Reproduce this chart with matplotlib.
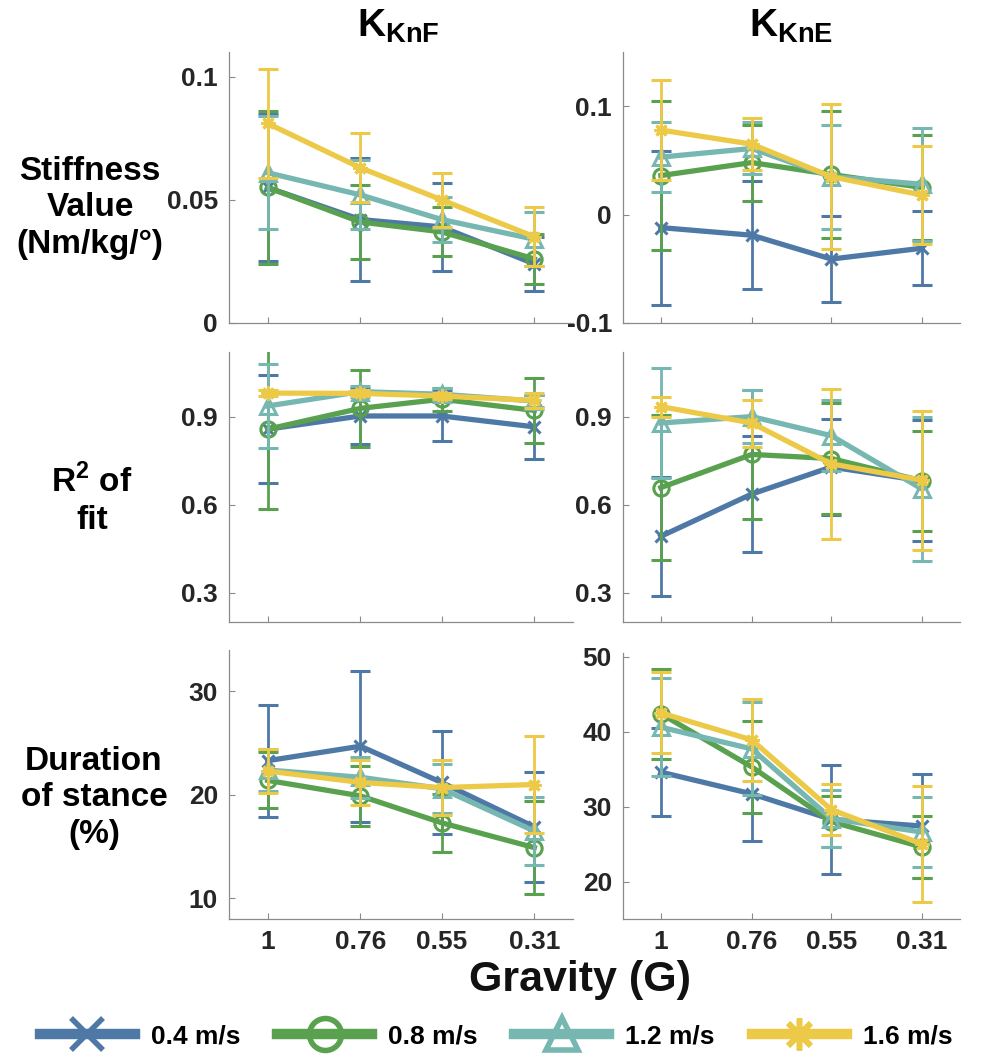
import matplotlib
matplotlib.use("Agg")
import matplotlib.pyplot as plt
from matplotlib.lines import Line2D

plt.rcParams['font.family'] = ['Liberation Sans', 'DejaVu Sans']
plt.rcParams['font.weight'] = 'bold'
plt.rcParams['mathtext.fontset'] = 'custom'
plt.rcParams['mathtext.bf'] = 'Liberation Sans:bold'
plt.rcParams['mathtext.rm'] = 'Liberation Sans:bold'

gravity = [1, 0.76, 0.55, 0.31]
gravity_labels = ["1", "0.76", "0.55", "0.31"]
speeds = ["0.4 m/s", "0.8 m/s", "1.2 m/s", "1.6 m/s"]

# stiffness, K_KnF  (rows: 0.4, 0.8, 1.2, 1.6 m/s)
knf_stiff = [[0.055, 0.042, 0.039, 0.024],
             [0.055, 0.041, 0.037, 0.026],
             [0.061, 0.052, 0.042, 0.034],
             [0.081, 0.063, 0.050, 0.035]]
knf_stiff_err = [[0.030, 0.025, 0.018, 0.011],
                 [0.031, 0.015, 0.010, 0.010],
                 [0.023, 0.014, 0.009, 0.011],
                 [0.022, 0.014, 0.011, 0.012]]

# stiffness, K_KnE
kne_stiff = [[-0.012, -0.019, -0.041, -0.031],
             [0.036, 0.048, 0.037, 0.025],
             [0.053, 0.061, 0.035, 0.028],
             [0.078, 0.065, 0.035, 0.018]]
kne_stiff_err = [[0.071, 0.050, 0.040, 0.034],
                 [0.069, 0.035, 0.059, 0.048],
                 [0.032, 0.024, 0.048, 0.052],
                 [0.046, 0.024, 0.067, 0.045]]

# R^2 of fit
knf_r2 = [[0.857, 0.902, 0.902, 0.865],
          [0.857, 0.928, 0.959, 0.921],
          [0.936, 0.985, 0.976, 0.953],
          [0.980, 0.979, 0.970, 0.955]]
knf_r2_err = [[0.185, 0.096, 0.085, 0.110],
              [0.272, 0.130, 0.040, 0.112],
              [0.143, 0.020, 0.020, 0.020],
              [0.010, 0.010, 0.010, 0.025]]
kne_r2 = [[0.492, 0.636, 0.728, 0.681],
          [0.658, 0.771, 0.757, 0.681],
          [0.878, 0.900, 0.835, 0.653],
          [0.934, 0.878, 0.739, 0.683]]
kne_r2_err = [[0.203, 0.197, 0.163, 0.206],
              [0.247, 0.220, 0.190, 0.170],
              [0.187, 0.090, 0.120, 0.246],
              [0.034, 0.080, 0.255, 0.236]]

# duration of stance (%)
knf_dur = [[23.3, 24.7, 21.2, 16.9],
           [21.4, 19.9, 17.3, 14.9],
           [22.4, 21.7, 20.6, 16.5],
           [22.3, 21.2, 20.7, 21.0]]
knf_dur_err = [[5.4, 7.3, 5.0, 5.3],
               [2.7, 2.9, 2.8, 4.5],
               [2.0, 2.0, 2.35, 3.3],
               [2.1, 2.2, 2.65, 4.65]]
kne_dur = [[34.6, 31.7, 28.3, 27.4],
           [42.4, 35.3, 28.0, 24.6],
           [40.6, 37.7, 28.4, 26.6],
           [42.5, 38.9, 29.6, 25.0]]
kne_dur_err = [[5.9, 6.3, 7.3, 6.9],
               [6.0, 6.1, 3.4, 4.1],
               [6.5, 6.2, 3.8, 4.7],
               [5.4, 5.5, 3.4, 7.7]]

colors = ['#4E79A7', '#59A14F', '#76B7B2', '#EDC948']
markers = ['x', 'o', '^', (8, 2, 0)]
msizes = [9, 11, 12, 10]

W, H = 992, 1059
fig = plt.figure(figsize=(W / 100, H / 100), dpi=100)


def px_axes(left, top, right, bottom):
    return fig.add_axes([left / W, 1 - bottom / H, (right - left) / W, (bottom - top) / H])


panels = [
    (px_axes(229, 52, 573, 323), knf_stiff, knf_stiff_err, (0, 0.11), [0, 0.05, 0.1], ["0", "0.05", "0.1"]),
    (px_axes(623, 52, 960, 323), kne_stiff, kne_stiff_err, (-0.1, 0.15), [-0.1, 0, 0.1], ["-0.1", "0", "0.1"]),
    (px_axes(229, 352, 573, 622), knf_r2, knf_r2_err, (0.2, 1.12), [0.3, 0.6, 0.9], ["0.3", "0.6", "0.9"]),
    (px_axes(623, 352, 960, 622), kne_r2, kne_r2_err, (0.2, 1.12), [0.3, 0.6, 0.9], ["0.3", "0.6", "0.9"]),
    (px_axes(229, 650, 573, 919), knf_dur, knf_dur_err, (8, 34), [10, 20, 30], ["10", "20", "30"]),
    (px_axes(623, 653, 960, 919), kne_dur, kne_dur_err, (15, 50.5), [20, 30, 40, 50], ["20", "30", "40", "50"]),
]

for i, (ax, means, errs, ylim, yt, ytl) in enumerate(panels):
    for k in range(4):
        ax.errorbar(gravity, means[k], yerr=errs[k], color=colors[k], lw=3.8,
                    marker=markers[k], ms=msizes[k], mfc='none', mew=2.2,
                    elinewidth=2.0, capsize=7, capthick=2.0, zorder=2 + k)
    ax.set_xlim(1.1, 0.21)
    ax.set_ylim(*ylim)
    ax.set_yticks(yt)
    ax.set_yticklabels(ytl)
    ax.set_xticks(gravity)
    if i >= 4:
        ax.set_xticklabels(gravity_labels)
    else:
        ax.set_xticklabels([])
    for s in ['top', 'right']:
        ax.spines[s].set_visible(False)
    for s in ['left', 'bottom']:
        ax.spines[s].set_color('#8a8a8a')
        ax.spines[s].set_linewidth(0.9)
    ax.tick_params(direction='in', length=4, width=0.8, color='#8a8a8a',
                   labelsize=19, labelcolor='#262626', pad=8)
    for lab in ax.get_xticklabels() + ax.get_yticklabels():
        lab.set_fontweight('bold')

# column titles
fig.text(398 / W, 1 - 37 / H, r'$\mathbf{K}_{\mathbf{KnF}}$', ha='center', va='baseline', fontsize=28)
fig.text(791 / W, 1 - 37 / H, r'$\mathbf{K}_{\mathbf{KnE}}$', ha='center', va='baseline', fontsize=28)

# row labels
fig.text(90 / W, 1 - 208 / H, "Stiffness\nValue\n(Nm/kg/°)", ha='center', va='center',
         fontsize=24, fontweight='bold', linespacing=1.22)
fig.text(92 / W, 1 - 500 / H, "R$^{\\mathbf{2}}$ of\nfit", ha='center', va='center',
         fontsize=24, fontweight='bold', linespacing=1.22)
fig.text(94 / W, 1 - 798 / H, "Duration\nof stance\n(%)", ha='center', va='center',
         fontsize=24, fontweight='bold', linespacing=1.22)

fig.text(580 / W, 1 - 980 / H, "Gravity (G)", ha='center', va='center', fontsize=31,
         fontweight='bold', color='#111111')

handles = [Line2D([], [], color=colors[k], lw=7.5, marker=markers[k], ms=23, mfc='none', mew=4)
           for k in range(4)]
fig.legend(handles, speeds, loc='center', bbox_to_anchor=(0.5, 1 - 1036 / H), ncol=4,
           frameon=False, handlelength=3.6, handletextpad=0.6,
           columnspacing=1.4, prop={'weight': 'bold', 'size': 19})

fig.savefig("out.png", dpi=100)
